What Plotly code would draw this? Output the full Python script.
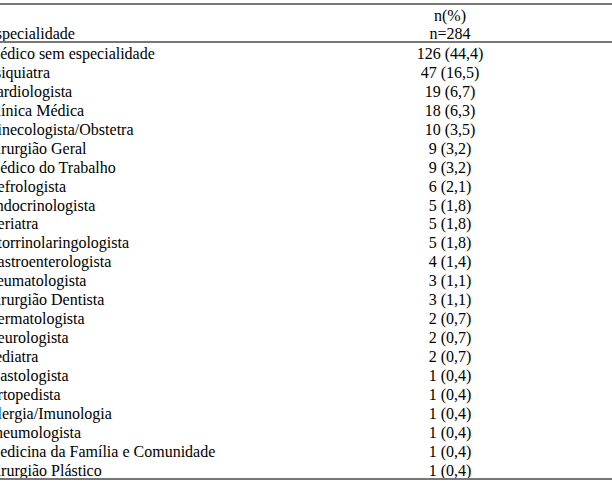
import plotly.graph_objects as go

# Table data
especialidades = [
    "Médico sem especialidade", "Psiquiatra", "Cardiologista", "Clínica Médica",
    "Ginecologista/Obstetra", "Cirurgião Geral", "Médico do Trabalho", "Nefrologista",
    "Endocrinologista", "Geriatra", "Otorrinolaringologista", "Gastroenterologista",
    "Reumatologista", "Cirurgião Dentista", "Dermatologista", "Neurologista",
    "Pediatra", "Mastologista", "Ortopedista", "Alergia/Imunologia",
    "Pneumologista", "Medicina da Família e Comunidade", "Cirurgião Plástico",
]
contagens = [126, 47, 19, 18, 10, 9, 9, 6, 5, 5, 5, 4, 3, 3, 2, 2, 2, 1, 1, 1, 1, 1, 1]
n_total = 284
cabecalho_col1 = "Especialidade"
cabecalho_col2 = ["n(%)", f"n={n_total}"]


def fmt(c):
    pct = f"{c / n_total * 100:.1f}".replace(".", ",")
    return f"{c} ({pct})"


valores = [fmt(c) for c in contagens]
linhas = [i + 0.1 for i in range(len(especialidades))]

font = dict(family="Liberation Serif, Times New Roman, serif", size=16, color="black")
# the figure is wider than the window and shifted left, so the first
# letters of the left column are cut by the page edge like in the original
shift = 14
x_left = 0
x_right = 450 + shift

fig = go.Figure()

# body rows
fig.add_trace(go.Scatter(
    x=[x_left] * len(linhas), y=linhas, text=especialidades,
    mode="text", textposition="middle right", textfont=font,
    cliponaxis=False, hoverinfo="skip",
))
fig.add_trace(go.Scatter(
    x=[x_right] * len(linhas), y=linhas, text=valores,
    mode="text", textposition="middle center", textfont=font,
    cliponaxis=False, hoverinfo="skip",
))

# header
fig.add_trace(go.Scatter(
    x=[x_left], y=[-0.955], text=[cabecalho_col1],
    mode="text", textposition="middle right", textfont=font,
    cliponaxis=False, hoverinfo="skip",
))
fig.add_trace(go.Scatter(
    x=[x_right, x_right], y=[-1.905, -0.955], text=cabecalho_col2,
    mode="text", textposition="middle center", textfont=font,
    cliponaxis=False, hoverinfo="skip",
))

# rules
for yy in [-2.586, -0.58, 22.48]:
    fig.add_shape(type="line", xref="paper", x0=0, x1=1, yref="y", y0=yy, y1=yy,
                  line=dict(color="#777777", width=1.8))

fig.update_layout(
    width=612 + shift, height=484,
    margin=dict(l=0, r=0, t=0, b=0),
    showlegend=False,
    plot_bgcolor="white", paper_bgcolor="white",
    xaxis=dict(range=[0, 612 + shift], visible=False, fixedrange=True),
    yaxis=dict(range=[22.744, -2.797], visible=False, fixedrange=True),
)

fig.write_html(
    "out.html",
    config=dict(displayModeBar=False),
    post_script=f"document.body.style.margin='0';document.body.style.overflow='hidden';"
                f"document.getElementById('{{plot_id}}').style.marginLeft='-{shift}px';",
)
